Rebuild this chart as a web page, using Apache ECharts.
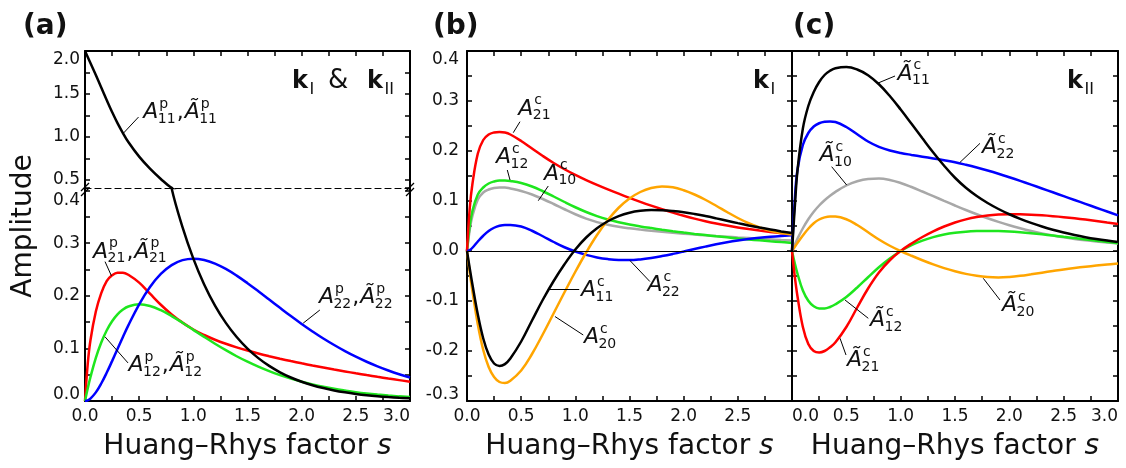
<!DOCTYPE html>
<html><head><meta charset="utf-8">
<script src="https://cdn.jsdelivr.net/npm/echarts@6/dist/echarts.min.js"></script>
<style>html,body{margin:0;padding:0;background:#fff}#c{width:1126px;height:468px}</style>
</head><body><div id="c"></div>
<script>
// ---------- data (Huang–Rhys factor s, shared by all panels) ----------
const S = [0, 0.025, 0.05, 0.1, 0.15, 0.2, 0.25, 0.3, 0.35, 0.4, 0.5, 0.6, 0.7, 0.8, 0.9, 1.0, 1.1, 1.2, 1.3, 1.4, 1.5, 1.6, 1.7, 1.8, 1.9, 2.0, 2.1, 2.2, 2.3, 2.4, 2.5, 2.6, 2.7, 2.8, 2.9, 3.0];

// panel (a)
const aBlack = [2.0, 1.93, 1.86, 1.72, 1.575, 1.43, 1.29, 1.16, 1.045, 0.94, 0.77, 0.63, 0.51, 0.404, 0.3306, 0.2707, 0.2216, 0.1814, 0.1485, 0.1216, 0.0996, 0.0815, 0.0667, 0.0546, 0.0447, 0.0366, 0.0300, 0.0246, 0.0201, 0.0165, 0.0135, 0.0110, 0.0090, 0.0074, 0.0061, 0.0050];
const aRed   = [0, 0.07, 0.115, 0.17, 0.205, 0.228, 0.239, 0.244, 0.244, 0.240, 0.225, 0.204, 0.183, 0.1645, 0.149, 0.136, 0.1255, 0.1165, 0.1088, 0.1020, 0.0959, 0.0903, 0.0852, 0.0804, 0.0759, 0.0716, 0.0675, 0.0636, 0.0598, 0.0562, 0.0527, 0.0493, 0.0460, 0.0428, 0.0397, 0.0367];
const aGreen = [0, 0.0238, 0.0452, 0.0819, 0.1111, 0.1341, 0.1516, 0.1646, 0.1738, 0.1797, 0.1839, 0.1807, 0.1726, 0.1615, 0.1488, 0.1353, 0.1219, 0.1089, 0.0966, 0.0851, 0.0747, 0.0652, 0.0567, 0.0492, 0.0425, 0.0366, 0.0315, 0.0270, 0.0231, 0.0198, 0.0168, 0.0143, 0.0122, 0.0104, 0.0088, 0.0074];
const aBlue  = [0, 0.0012, 0.0045, 0.0164, 0.0333, 0.0536, 0.0758, 0.0988, 0.1217, 0.1438, 0.1839, 0.2169, 0.2417, 0.2584, 0.2678, 0.2707, 0.2681, 0.2613, 0.2511, 0.2384, 0.2240, 0.2087, 0.1929, 0.1771, 0.1615, 0.1465, 0.1323, 0.1188, 0.1064, 0.0948, 0.0842, 0.0746, 0.0659, 0.0580, 0.0509, 0.0446];

// panel (b)
const bRed    = [0, 0.085, 0.134, 0.195, 0.222, 0.233, 0.237, 0.238, 0.237, 0.233, 0.2200, 0.2050, 0.1900, 0.1760, 0.1635, 0.1522, 0.1418, 0.1322, 0.1232, 0.1146, 0.1063, 0.0983, 0.0907, 0.0835, 0.0767, 0.0704, 0.0647, 0.0596, 0.0550, 0.0509, 0.0472, 0.0439, 0.0409, 0.0382, 0.0357, 0.0334];
const bGreen  = [0, 0.050, 0.080, 0.113, 0.127, 0.135, 0.139, 0.141, 0.141, 0.140, 0.1360, 0.1290, 0.1195, 0.1090, 0.0980, 0.0875, 0.0780, 0.0698, 0.0630, 0.0575, 0.0530, 0.0492, 0.0458, 0.0426, 0.0396, 0.0368, 0.0342, 0.0318, 0.0295, 0.0273, 0.0252, 0.0232, 0.0213, 0.0195, 0.0178, 0.0162];
const bGray   = [0, 0.042, 0.070, 0.103, 0.117, 0.123, 0.126, 0.127, 0.127, 0.125, 0.1200, 0.1130, 0.1040, 0.0940, 0.0835, 0.0735, 0.0648, 0.0578, 0.0525, 0.0485, 0.0454, 0.0428, 0.0405, 0.0384, 0.0365, 0.0347, 0.0330, 0.0314, 0.0299, 0.0285, 0.0271, 0.0258, 0.0245, 0.0233, 0.0221, 0.0210];
const bBlue   = [0, 0.0020, 0.0065, 0.0190, 0.0305, 0.0400, 0.0465, 0.0505, 0.0522, 0.0522, 0.0490, 0.0405, 0.0295, 0.0180, 0.0075, -0.0010, -0.0078, -0.0128, -0.0162, -0.0180, -0.0182, -0.0168, -0.0140, -0.0102, -0.0058, -0.0010, 0.0040, 0.0088, 0.0133, 0.0173, 0.0208, 0.0238, 0.0264, 0.0285, 0.0302, 0.0316];
const bBlack  = [0, -0.0345, -0.0670, -0.1270, -0.1750, -0.2070, -0.2250, -0.2300, -0.2262, -0.2150, -0.1810, -0.1390, -0.0975, -0.0600, -0.0265, 0.0030, 0.0270, 0.0455, 0.0595, 0.0697, 0.0765, 0.0803, 0.0818, 0.0815, 0.0800, 0.0776, 0.0741, 0.0699, 0.0653, 0.0605, 0.0557, 0.0511, 0.0468, 0.0428, 0.0392, 0.0359];
const bOrange = [0, -0.042, -0.080, -0.147, -0.198, -0.232, -0.252, -0.262, -0.264, -0.2595, -0.2390, -0.2060, -0.1665, -0.1245, -0.0825, -0.0415, -0.0030, 0.0320, 0.0620, 0.0865, 0.1050, 0.1180, 0.1260, 0.1292, 0.1275, 0.1215, 0.1130, 0.1025, 0.0905, 0.0780, 0.0660, 0.0555, 0.0470, 0.0405, 0.0360, 0.0330];

// panel (c)
const cBlack  = [0, 0.085, 0.160, 0.245, 0.290, 0.318, 0.338, 0.352, 0.3605, 0.3655, 0.3680, 0.3630, 0.3515, 0.3335, 0.3100, 0.2830, 0.2545, 0.2255, 0.1970, 0.1705, 0.1465, 0.1265, 0.1100, 0.0960, 0.0840, 0.0735, 0.0643, 0.0562, 0.0490, 0.0426, 0.0370, 0.0320, 0.0277, 0.0240, 0.0208, 0.0180];
const cBlue   = [0, 0.100, 0.162, 0.212, 0.236, 0.249, 0.2555, 0.2585, 0.2592, 0.2580, 0.2480, 0.2335, 0.2190, 0.2083, 0.2010, 0.1960, 0.1922, 0.1887, 0.1852, 0.1815, 0.1775, 0.1725, 0.1670, 0.1610, 0.1545, 0.1475, 0.1402, 0.1327, 0.1251, 0.1174, 0.1097, 0.1020, 0.0943, 0.0866, 0.0789, 0.0712];
const cGray   = [0, 0.0125, 0.0245, 0.0455, 0.0635, 0.0785, 0.0910, 0.1015, 0.1105, 0.1182, 0.1310, 0.1395, 0.1440, 0.1448, 0.1420, 0.1360, 0.1280, 0.1190, 0.1097, 0.1003, 0.0910, 0.0820, 0.0735, 0.0655, 0.0582, 0.0515, 0.0455, 0.0401, 0.0353, 0.0311, 0.0274, 0.0242, 0.0214, 0.0190, 0.0169, 0.0151];
const cOrange = [0, 0.0080, 0.0160, 0.0310, 0.0445, 0.0555, 0.0630, 0.0672, 0.0690, 0.0688, 0.0635, 0.0520, 0.0375, 0.0230, 0.0105, 0.0000, -0.0095, -0.0185, -0.0268, -0.0342, -0.0405, -0.0458, -0.0497, -0.0521, -0.0528, -0.0518, -0.0496, -0.0466, -0.0433, -0.0400, -0.0368, -0.0340, -0.0315, -0.0292, -0.0270, -0.0250];
const cRed    = [0, -0.0500, -0.0900, -0.1520, -0.1860, -0.2000, -0.2030, -0.2000, -0.1925, -0.1825, -0.1520, -0.1130, -0.0750, -0.0430, -0.0185, 0.0000, 0.0150, 0.0280, 0.0393, 0.0490, 0.0570, 0.0633, 0.0680, 0.0712, 0.0730, 0.0737, 0.0735, 0.0727, 0.0714, 0.0697, 0.0677, 0.0654, 0.0628, 0.0600, 0.0570, 0.0540];
const cGreen  = [0, -0.0240, -0.0450, -0.0790, -0.0995, -0.1105, -0.1150, -0.1150, -0.1120, -0.1065, -0.0920, -0.0730, -0.0525, -0.0325, -0.0150, 0.0000, 0.0118, 0.0208, 0.0277, 0.0328, 0.0363, 0.0386, 0.0398, 0.0402, 0.0399, 0.0390, 0.0375, 0.0356, 0.0334, 0.0310, 0.0284, 0.0258, 0.0232, 0.0206, 0.0181, 0.0157];

// tick values for the upper (broken) part of panel (a)
const aUpperTicks  = [0.5, 0.75, 1.0, 1.25, 1.5, 1.75, 2.0];
const aUpperLabels = [0.5, 1.0, 1.5, 2.0];

const panelLetters = ['(a)', '(b)', '(c)'];
const xTitle = 'Huang–Rhys factor {i|s}';
const yTitle = 'Amplitude';

// curve annotations: grid index, text anchor (data coords), leader line (data coords), parts [base, sup, sub]
const curveLabels = [
  {g:0, at:[0.538, 1.196], lead:[[0.353, 1.041], [0.494, 1.231]], parts:[['A','p','11'], ['Ã','p','11']]},
  {g:1, at:[0.074, 0.2686], lead:[[0.185, 0.265], [0.244, 0.238]], parts:[['A','p','21'], ['Ã','p','21']]},
  {g:1, at:[0.401, 0.0528], lead:[[0.185, 0.122], [0.397, 0.0724]], parts:[['A','p','12'], ['Ã','p','12']]},
  {g:1, at:[2.159, 0.1829], lead:[[2.014, 0.148], [2.168, 0.173]], parts:[['A','p','22'], ['Ã','p','22']]},
  {g:2, at:[0.473, 0.2686], lead:[[0.427, 0.2366], [0.489, 0.2586]], parts:[['A','c','21']]},
  {g:2, at:[0.2675, 0.172], lead:[[0.397, 0.142], [0.372, 0.162]], parts:[['A','c','12']]},
  {g:2, at:[0.710, 0.1386], lead:[[0.658, 0.1006], [0.750, 0.13]], parts:[['A','c','10']]},
  {g:2, at:[1.052, -0.0946], lead:[[0.75, -0.0766], [1.036, -0.0766]], parts:[['A','c','11']]},
  {g:2, at:[1.079, -0.188], lead:[[0.812, -0.131], [1.073, -0.168]], parts:[['A','c','20']]},
  {g:2, at:[1.665, -0.0846], lead:[[1.504, -0.019], [1.688, -0.061]], parts:[['A','c','22']]},
  {g:3, at:[0.9706, 0.3386], lead:[[0.785, 0.3353], [0.948, 0.35]], parts:[['Ã','c','11']]},
  {g:3, at:[1.748, 0.192], lead:[[1.546, 0.1773], [1.73, 0.2153]], parts:[['Ã','c','22']]},
  {g:3, at:[0.253, 0.1754], lead:[[0.503, 0.132], [0.365, 0.1686]], parts:[['Ã','c','10']]},
  {g:3, at:[0.7176, -0.1546], lead:[[0.488, -0.098], [0.702, -0.1346]], parts:[['Ã','c','12']]},
  {g:3, at:[0.506, -0.2346], lead:[[0.442, -0.1746], [0.497, -0.208]], parts:[['Ã','c','21']]},
  {g:3, at:[1.932, -0.1246], lead:[[1.76, -0.0546], [1.914, -0.098]], parts:[['Ã','c','20']]}
];

// ---------- styling / layout ----------
const FAM = 'DejaVu Sans';
const INK = '#111';
const COL = {black:'#000000', red:'#ff0000', green:'#1ee61e', blue:'#0000ff', gray:'#a8a8a8', orange:'#ffa500'};
const GRIDS = [
  {left:85, top:51, width:325, height:137},
  {left:85, top:188, width:325, height:213},
  {left:467, top:51, width:325, height:350},
  {left:792, top:51, width:326, height:350}
];
const GAX = [[0,0],[1,2],[3,4],[5,6]]; // grid -> [xAxisIndex, yAxisIndex]

const tickStyle = {show:true, inside:true, length:5, lineStyle:{color:'#000', width:1.5}};
const lineAx = {show:true, onZero:false, lineStyle:{color:'#000', width:2}};
const lblBase = {fontSize:17, fontFamily:FAM, color:INK};
function fmt(v){ return (Math.abs(v) < 1e-9 ? 0 : v).toFixed(1); }
function isMult(v, step){ return Math.abs(v/step - Math.round(v/step)) < 1e-6; }
const richLbl = {
  dn: Object.assign({padding:[18,0,0,0]}, lblBase),
  dn2: Object.assign({padding:[20,0,0,0]}, lblBase),
  up: Object.assign({padding:[0,0,12,0]}, lblBase)
};
const nameStyle = {fontSize:28, fontFamily:FAM, color:INK, rich:{i:{fontSize:28, fontFamily:FAM, color:INK, fontStyle:'italic'}}};

function xAx(grid, extra){
  return Object.assign({type:'value', gridIndex:grid, min:0, max:3, interval:0.25, position:'bottom',
    axisLine:lineAx, axisTick:tickStyle, axisLabel:{show:false}, splitLine:{show:false}}, extra);
}
function yAx(grid, extra){
  return Object.assign({type:'value', gridIndex:grid, position:'left',
    axisLine:lineAx, axisTick:tickStyle, axisLabel:{show:false}, splitLine:{show:false}}, extra);
}
function bottomLabels(extra){
  return Object.assign({show:true, margin:7}, lblBase, extra);
}
const xName = {name:xTitle, nameLocation:'middle', nameGap:32, nameTextStyle:nameStyle, nameMoveOverlap:false};

const xAxes = [
  xAx(0, {position:'top'}),
  xAx(1, Object.assign({axisLabel:bottomLabels({alignMaxLabel:'right', formatter:v => isMult(v,0.5) ? fmt(v) : ''})}, xName)),
  xAx(1, {position:'top', axisTick:{show:false}, axisLine:{show:true, onZero:false, lineStyle:{color:'#000', width:1.2, type:[6,4]}}}),
  xAx(2, Object.assign({axisLabel:bottomLabels({formatter:v => (isMult(v,0.5) && v < 2.9) ? fmt(v) : ''})}, xName)),
  xAx(2, {position:'top'}),
  xAx(3, Object.assign({axisLabel:bottomLabels({alignMinLabel:'left', alignMaxLabel:'right', formatter:v => isMult(v,0.5) ? fmt(v) : ''})}, xName)),
  xAx(3, {position:'top'})
];

const upperY = {min:0.405, max:2.0};
const yAxes = [
  yAx(0, Object.assign({}, upperY, {
    axisTick:Object.assign({customValues:aUpperTicks}, tickStyle),
    axisLabel:Object.assign({show:true, margin:5, customValues:aUpperLabels, rich:richLbl,
      formatter:v => v > 1.99 ? '{dn|' + fmt(v) + '}' : fmt(v)}, lblBase)})),
  yAx(0, Object.assign({}, upperY, {position:'right', axisTick:Object.assign({customValues:aUpperTicks}, tickStyle)})),
  yAx(1, {min:0, max:0.405, interval:0.05,
    axisLabel:Object.assign({show:true, margin:5, rich:richLbl, formatter:v => {
      if (v > 0.401 || !isMult(v,0.1)) return '';
      if (Math.abs(v) < 1e-9) return '{up|0.0}';
      if (Math.abs(v-0.4) < 1e-9) return '{dn2|0.4}';
      return fmt(v);
    }}, lblBase)}),
  yAx(1, {min:0, max:0.405, interval:0.05, position:'right'}),
  yAx(2, {min:-0.3, max:0.4, interval:0.05,
    axisLabel:Object.assign({show:true, margin:8, rich:richLbl, formatter:v => {
      if (!isMult(v,0.1)) return '';
      if (Math.abs(v-0.4) < 1e-9) return '{dn|0.4}';
      if (Math.abs(v+0.3) < 1e-9) return '{up|-0.3}';
      return fmt(v);
    }}, lblBase)}),
  yAx(2, {min:-0.3, max:0.4, interval:0.05, position:'right'}),
  yAx(3, {min:-0.3, max:0.4, interval:0.05}),
  yAx(3, {min:-0.3, max:0.4, interval:0.05, position:'right'})
];

function line(g, vals, color, z, extra){
  const [xi, yi] = GAX[g];
  return Object.assign({type:'line', xAxisIndex:xi, yAxisIndex:yi, data:S.map((x,i) => [x, vals[i]]),
    showSymbol:false, symbol:'none', smooth:0.4, clip:true, silent:true, z:z||2,
    lineStyle:{color:color, width:2.5}, itemStyle:{color:color}}, extra||{});
}
const zeroLine = {silent:true, symbol:'none', label:{show:false}, animation:false,
  lineStyle:{color:'#000', width:1, type:'solid'}, data:[{yAxis:0}]};

const series = [
  line(0, aBlack, COL.black, 4),
  line(1, aRed, COL.red, 2),
  line(1, aGreen, COL.green, 2),
  line(1, aBlue, COL.blue, 3),
  line(1, aBlack, COL.black, 4),
  line(2, bGray, COL.gray, 2, {markLine:zeroLine}),
  line(2, bGreen, COL.green, 2),
  line(2, bRed, COL.red, 2),
  line(2, bBlue, COL.blue, 3),
  line(2, bOrange, COL.orange, 3),
  line(2, bBlack, COL.black, 4),
  line(3, cGray, COL.gray, 2, {markLine:zeroLine}),
  line(3, cGreen, COL.green, 2),
  line(3, cRed, COL.red, 2),
  line(3, cOrange, COL.orange, 3),
  line(3, cBlue, COL.blue, 3),
  line(3, cBlack, COL.black, 4)
];
[0,1,2,3].forEach(g => {
  const items = curveLabels.filter(l => l.g === g);
  if (!items.length) return;
  series.push({type:'lines', coordinateSystem:'cartesian2d', xAxisIndex:GAX[g][0], yAxisIndex:GAX[g][1],
    silent:true, z:6, lineStyle:{color:'#000', width:1, opacity:1, curveness:0},
    data:items.map(l => ({coords:l.lead}))});
});

const chart = echarts.init(document.getElementById('c'), null, {renderer:'canvas'});
chart.setOption({
  animation:false,
  backgroundColor:'#fff',
  grid:GRIDS.map(g => Object.assign({containLabel:false, outerBoundsMode:'none'}, g)),
  xAxis:xAxes,
  yAxis:yAxes,
  series:series
});

// ---------- annotations ----------
const ctx = document.createElement('canvas').getContext('2d');
function tw(t, font){ ctx.font = font; return ctx.measureText(t).width; }
function txt(x, baseline, t, font, size, extra){
  return Object.assign({type:'text', x:x, y:baseline - 0.35*size, silent:true, z:100,
    style:{text:t, font:font, fill:INK, textAlign:'left', textVerticalAlign:'middle', align:'left', verticalAlign:'middle'}}, extra||{});
}
const F_BASE = 'italic 22px "DejaVu Sans"', F_SCR = '14px "DejaVu Sans"', F_REG = '22px "DejaVu Sans"';
function mathLabel(x, y, parts){
  const els = []; let cx = x;
  parts.forEach((p, i) => {
    if (i > 0){ els.push(txt(cx, y + 1, ',', F_REG, 22)); cx += tw(',', F_REG) + 1; }
    els.push(txt(cx, y, p[0], F_BASE, 22)); cx += tw(p[0], F_BASE) - 0.5;
    els.push(txt(cx + 1.5, y - 11, p[1], F_SCR, 14));
    els.push(txt(cx, y + 4, p[2], F_SCR, 14));
    cx += Math.max(tw(p[1], F_SCR) + 1.5, tw(p[2], F_SCR)) + 1;
  });
  return els;
}
const F_K = 'bold 24px "DejaVu Sans"', F_KS = '16px "DejaVu Sans"', F_AMP = '26px "DejaVu Sans"';
function kLabel(x, y, sub){
  return [txt(x, y, 'k', F_K, 24), txt(x + tw('k', F_K) + 1.5, y + 5, sub, F_KS, 16)];
}

function buildGraphic(){
  const els = [];
  curveLabels.forEach(l => {
    const p = chart.convertToPixel({xAxisIndex:GAX[l.g][0], yAxisIndex:GAX[l.g][1]}, l.at);
    els.push(...mathLabel(p[0], p[1], l.parts));
  });
  const letterX = [GRIDS[0].left - 62, GRIDS[2].left - 34, GRIDS[3].left + 1];
  panelLetters.forEach((t, i) => els.push(txt(letterX[i], 37, t, 'bold 28px "DejaVu Sans"', 28)));
  const kb = GRIDS[0].top + 39;
  const ra = GRIDS[0].left + GRIDS[0].width;
  els.push(...kLabel(ra - 118, kb, 'I'));
  els.push(txt(ra - 82, kb, '&', F_AMP, 26));
  els.push(...kLabel(ra - 43, kb, 'II'));
  els.push(...kLabel(GRIDS[2].left + GRIDS[2].width - 39, kb, 'I'));
  els.push(...kLabel(GRIDS[3].left + GRIDS[3].width - 51, kb, 'II'));
  els.push({type:'text', x:24, y:GRIDS[0].top + (GRIDS[0].height + GRIDS[1].height)/2, rotation:Math.PI/2, silent:true,
    style:{text:yTitle, font:'28px "DejaVu Sans"', fill:INK, textAlign:'center', textVerticalAlign:'middle', align:'center', verticalAlign:'middle'}});
  [[0, 0.405], [3, 0.405]].forEach(pt => {
    const p = chart.convertToPixel({xAxisIndex:1, yAxisIndex:2}, pt);
    [[-1, 0], [4, 0]].forEach(o => {
      els.push({type:'line', silent:true, z:50, shape:{x1:p[0]-4, y1:p[1]+o[0]+4, x2:p[0]+4, y2:p[1]+o[0]-4},
        style:{stroke:'#000', lineWidth:1.3}});
    });
  });
  return els;
}
chart.setOption({graphic:{elements:buildGraphic()}});
</script>
</body></html>
